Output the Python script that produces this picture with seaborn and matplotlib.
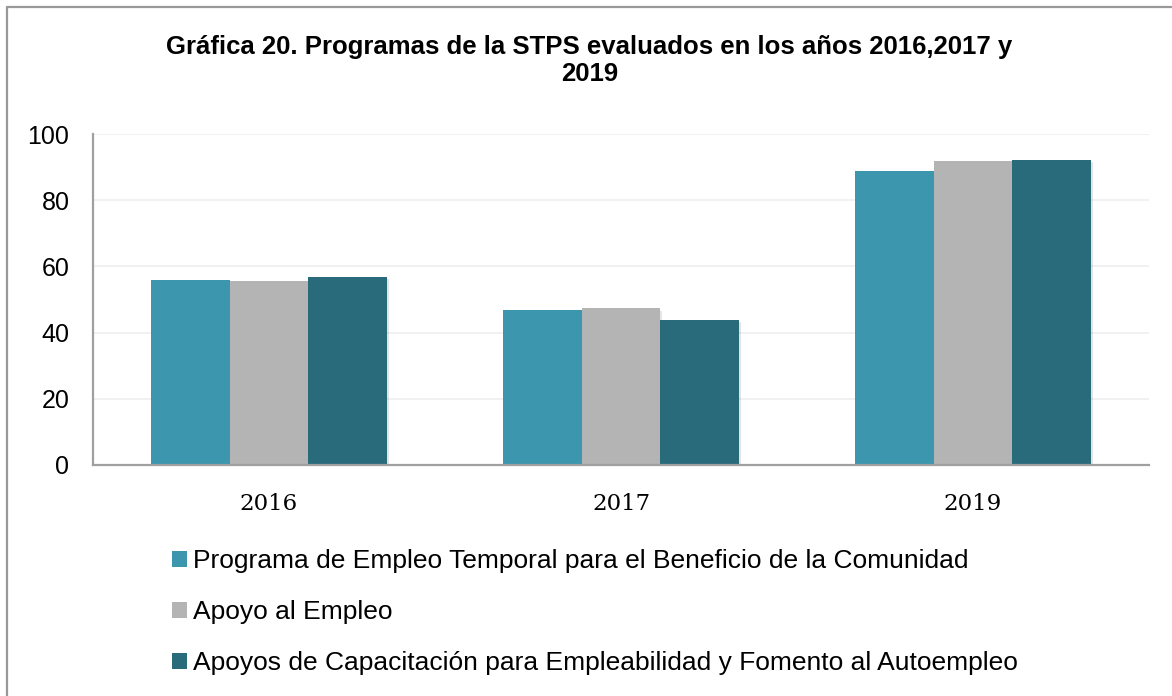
import numpy as np
import pandas as pd
import matplotlib
matplotlib.use("Agg")
import matplotlib.pyplot as plt
import matplotlib.patheffects as pe
from matplotlib.lines import Line2D
from matplotlib.patches import Patch
import seaborn as sns

# data
anios = ["2016", "2017", "2019"]
programas = [
    "Programa de Empleo Temporal para el Beneficio de la Comunidad",
    "Apoyo al Empleo",
    "Apoyos de Capacitación para Empleabilidad y Fomento al Autoempleo",
]
empleo_temporal = [56.0, 46.8, 88.7]
apoyo_empleo = [55.6, 47.3, 91.9]
capacitacion = [56.7, 43.8, 92.1]
colores = ["#3C97AE", "#B4B4B4", "#296B7A"]

df = pd.DataFrame({
    "anio": anios * 3,
    "valor": empleo_temporal + apoyo_empleo + capacitacion,
    "programa": [p for p in programas for _ in anios],
})

sns.set_style("white", {"text.color": "black", "xtick.color": "black", "ytick.color": "black"})
plt.rcParams["font.family"] = ["Liberation Sans", "DejaVu Sans"]

fig = plt.figure(figsize=(11.72, 6.96), dpi=100)
ax = fig.add_axes([93 / 1172, 1 - 465 / 696, (1149 - 93) / 1172, (465 - 134) / 696])

sns.barplot(data=df, x="anio", y="valor", hue="programa", hue_order=programas,
            palette=colores, width=0.67, saturation=1, ax=ax, legend=False,
            edgecolor="none", linewidth=0)

for bar in ax.patches:
    bar.set_path_effects([pe.SimplePatchShadow(offset=(1.5, -1.5), alpha=0.12), pe.Normal()])

ax.set_xlim(-0.5, 2.5)
ax.set_ylim(0, 100)
ax.set_yticks(range(0, 101, 20))
ax.set_xlabel("")
ax.set_ylabel("")
ax.grid(axis="y", color="#EFEFEF", linewidth=1.2)
ax.set_axisbelow(True)

for side in ["top", "right"]:
    ax.spines[side].set_visible(False)
for side in ["left", "bottom"]:
    ax.spines[side].set_color("#A0A0A0")
    ax.spines[side].set_linewidth(1.6)

ax.set_xticks([-0.5, 0.5, 1.5, 2.5], minor=True)
ax.tick_params(axis="x", which="major", length=0, pad=20, labelsize=16.5, labelcolor="black")
ax.tick_params(axis="x", which="minor", length=6, width=1.6, color="#A0A0A0", direction="out")
ax.tick_params(axis="y", length=5, width=1.6, color="#A0A0A0", direction="out", pad=12,
               labelsize=18, labelcolor="black")
for lab in ax.get_xticklabels():
    lab.set_family("DejaVu Serif")

fig.text(0.503, 0.95, "Gráfica 20. Programas de la STPS evaluados en los años 2016,2017 y\n2019",
         ha="center", va="top", fontsize=18.5, fontweight="bold", linespacing=1.15,
         color="black", family=["Liberation Sans", "DejaVu Sans"])

handles = [Patch(facecolor=c, edgecolor="none") for c in colores]
fig.legend(handles, programas, loc="upper left", bbox_to_anchor=(172 / 1172, 1 - 549 / 696),
           frameon=False, fontsize=19, handlelength=0.55, handleheight=0.55,
           handletextpad=0.25, labelspacing=1.03, borderpad=0, borderaxespad=0,
           labelcolor="black")

# frame of the chart area (left and top edges visible)
fig.add_artist(Line2D([7 / 1172, 7 / 1172], [0, 1 - 7 / 696], transform=fig.transFigure,
                      color="#999999", linewidth=1.6))
fig.add_artist(Line2D([7 / 1172, 1], [1 - 7 / 696, 1 - 7 / 696], transform=fig.transFigure,
                      color="#999999", linewidth=1.6))

fig.savefig("out.png", dpi=100)
